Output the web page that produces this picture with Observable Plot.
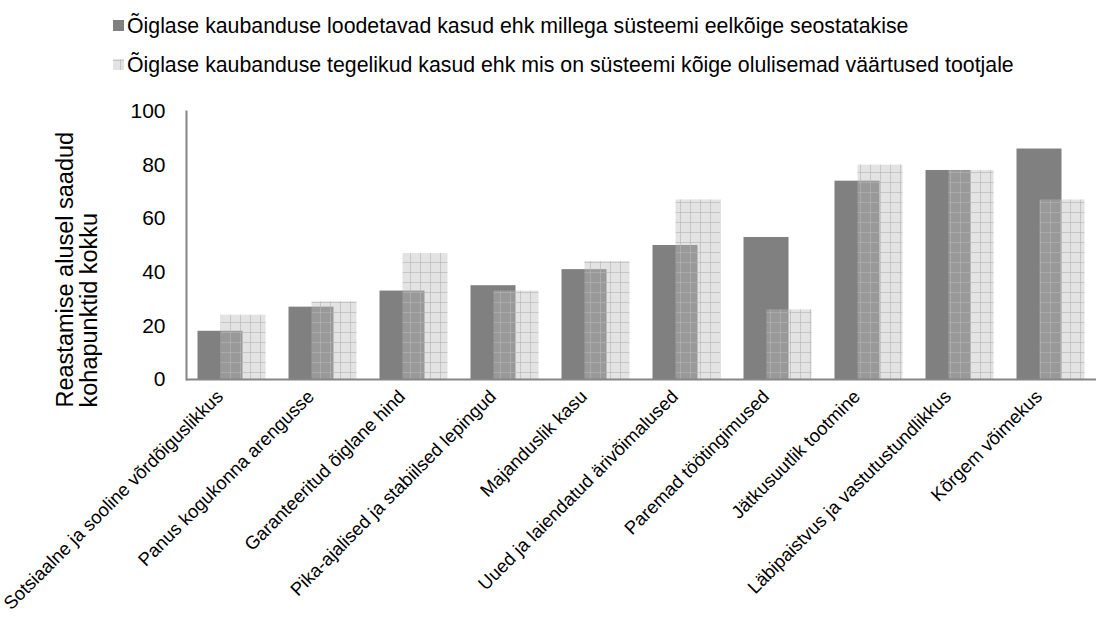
<!DOCTYPE html>
<html lang="et">
<head>
<meta charset="utf-8">
<script src="https://cdn.jsdelivr.net/npm/d3@7"></script>
<script src="https://cdn.jsdelivr.net/npm/@observablehq/plot@0.6"></script>
<style>
  html, body { margin: 0; padding: 0; background: #fff; }
  body { width: 1096px; height: 619px; overflow: hidden; font-family: "Liberation Sans", Arial, sans-serif; }
  #legend { display: block; }
  #chart svg { display: block; }
</style>
</head>
<body>
<svg id="legend" width="1096" height="90"></svg>
<div id="chart"></div>
<script>
// Benefit categories along the x axis
const categories = [
  "Sotsiaalne ja sooline võrdõiguslikkus",
  "Panus kogukonna arengusse",
  "Garanteeritud õiglane hind",
  "Pika-ajalised ja stabiilsed lepingud",
  "Majanduslik kasu",
  "Uued ja laiendatud ärivõimalused",
  "Paremad töötingimused",
  "Jätkusuutlik tootmine",
  "Läbipaistvus ja vastutustundlikkus",
  "Kõrgem võimekus"
];

// Ranking points per category
const expectedBenefits = [18, 27, 33, 35, 41, 50, 53, 74, 78, 86];
const actualBenefits = [24, 29, 47, 33, 44, 67, 26, 80, 78, 67];

const seriesNames = [
  "Õiglase kaubanduse loodetavad kasud ehk millega süsteemi eelkõige seostatakise",
  "Õiglase kaubanduse tegelikud kasud ehk mis on süsteemi kõige olulisemad väärtused tootjale"
];

const yTicks = [0, 20, 40, 60, 80, 100];
const yTitle = "Reastamise alusel saadud\nkohapunktid kokku";

const rows = categories.map((category, i) => ({
  category,
  expected: expectedBenefits[i],
  actual: actualBenefits[i]
}));

const font = '"Liberation Sans", Arial, sans-serif';
const darkFill = "#808080";
const axisGray = "#868686";

// Semi-transparent grid pattern for the second series
const patternDefs = `
  <pattern id="lightGrid" patternUnits="userSpaceOnUse" width="10" height="10" x="0" y="2">
    <rect width="10" height="10" fill="#bbbbbb" fill-opacity="0.42"/>
    <path d="M0 0.5H10M0.5 0V10" stroke="#b4b4b4" stroke-opacity="0.62" stroke-width="1"/>
  </pattern>`;

const chart = Plot.plot({
  width: 1096,
  height: 529,
  marginTop: 21,
  marginBottom: 240,
  marginLeft: 186,
  marginRight: 0,
  style: { fontFamily: font, color: "#000", background: "#fff", overflow: "visible" },
  x: { domain: categories, padding: 0, label: null },
  y: { domain: [0, 100], label: null },
  marks: [
    Plot.barY(rows, { x: "category", y: "expected", fill: darkFill, insetLeft: 11.5, insetRight: 34.5 }),
    Plot.barY(rows, { x: "category", y: "actual", fill: "url(#lightGrid)", insetLeft: 34.5, insetRight: 11.5 }),
    Plot.axisY({ ticks: yTicks, tickSize: 0, tickPadding: 21, fontSize: 21, label: null }),
    Plot.axisX({ tickSize: 0, tickRotate: -45, tickPadding: 14, fontSize: 18.5, label: null, dx: -12 }),
    Plot.frame({ anchor: "left", stroke: axisGray, strokeWidth: 2 }),
    Plot.ruleY([0], { stroke: axisGray, strokeWidth: 2 }),
    Plot.text([yTitle], {
      frameAnchor: "bottom-left",
      rotate: -90,
      textAnchor: "start",
      lineAnchor: "middle",
      lineHeight: 1.03,
      fontSize: 23.5,
      dx: -109,
      dy: 28
    })
  ]
});

chart.insertAdjacentHTML("afterbegin", `<defs>${patternDefs}</defs>`);
document.getElementById("chart").appendChild(chart);

// Legend: two rows with swatches
const legend = d3.select("#legend");
legend.append("defs").html(patternDefs.replace('id="lightGrid"', 'id="lightGridLegend"').replace('y="2"', 'y="0"'));
const legendRows = [
  { name: seriesNames[0], fill: darkFill, y: 20 },
  { name: seriesNames[1], fill: "url(#lightGridLegend)", y: 59 }
];
legendRows.forEach(r => {
  legend.append("rect").attr("x", 113).attr("y", r.y).attr("width", 11).attr("height", 11).attr("fill", r.fill);
  legend.append("text")
    .attr("x", 127).attr("y", r.y + 12.5)
    .attr("font-family", font).attr("font-size", 21.3).attr("fill", "#000")
    .text(r.name);
});
</script>
</body>
</html>
